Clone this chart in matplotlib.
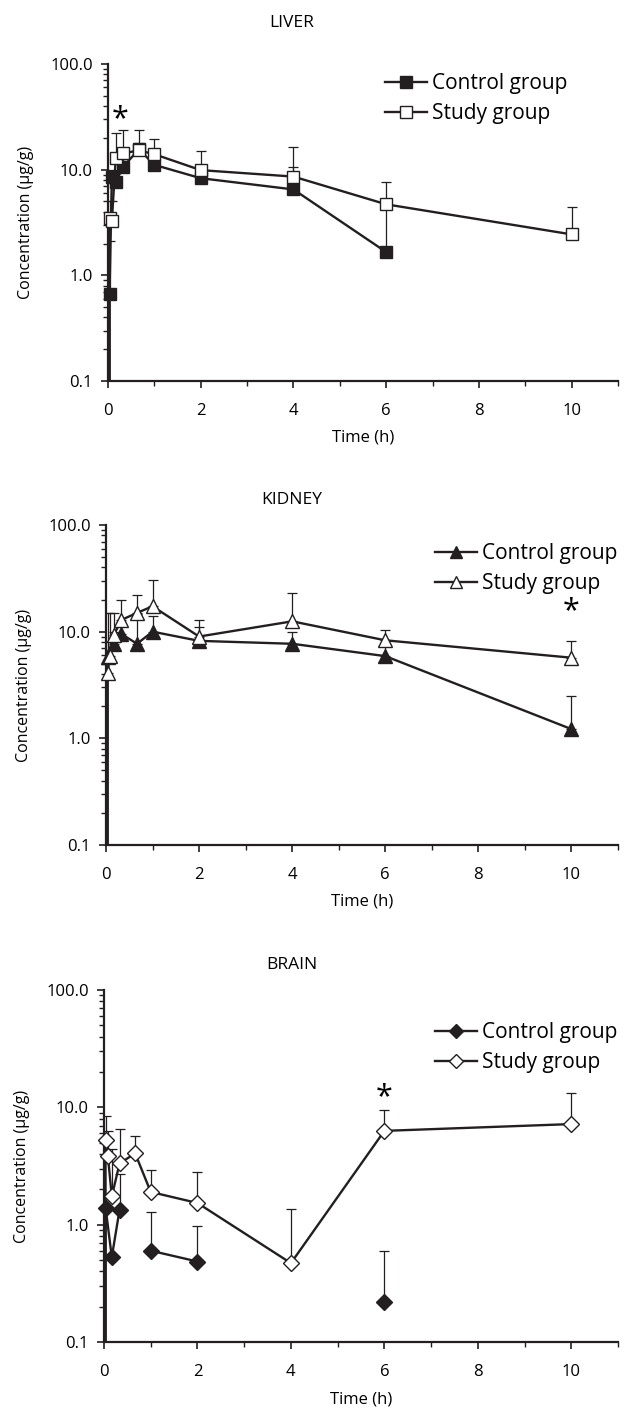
import matplotlib

matplotlib.use("Agg")

import numpy as np
import matplotlib.pyplot as plt
from matplotlib.lines import Line2D

plt.rcParams["font.family"] = ["Open Sans", "DejaVu Sans"]
plt.rcParams["font.size"] = 12

nan = np.nan

# liver
liver_ctrl_t = [0, 0.033, 0.083, 0.167, 0.333, 0.667, 1, 2, 4, 6]
liver_ctrl = [0, 0.66, 8.6, 7.7, 10.7, 15.6, 11.1, 8.3, 6.5, 1.66]
liver_ctrl_top = [0, 2.1, 10.0, 9.5, 12.5, 18.0, 13.0, 10.0, 10.7, 4.5]
liver_study_t = [0, 0.033, 0.083, 0.167, 0.333, 0.667, 1, 2, 4, 6, 10]
liver_study = [0, 3.5, 3.3, 12.8, 14.3, 15.2, 14.0, 9.9, 8.6, 4.7, 2.44]
liver_study_top = [0, 5.0, 5.0, 22.2, 23.9, 23.5, 19.4, 15.1, 16.3, 7.7, 4.45]

# kidney
kidney_ctrl_t = [0, 0.033, 0.167, 0.333, 0.667, 1, 2, 4, 6, 10]
kidney_ctrl = [0, 5.8, 7.6, 9.5, 7.7, 10.0, 8.2, 7.7, 5.9, 1.22]
kidney_ctrl_top = [0, 8.0, 10.0, 12.0, 14.5, 14.0, 11.0, 10.0, 7.5, 2.5]
kidney_study_t = [0, 0.033, 0.083, 0.167, 0.333, 0.667, 1, 2, 4, 6, 10]
kidney_study = [0, 4.1, 5.9, 9.3, 12.9, 15.0, 17.3, 9.0, 12.5, 8.3, 5.7]
kidney_study_top = [0, 15.0, 15.0, 15.0, 20.0, 22.3, 30.6, 13.0, 23.0, 10.3, 8.2]

# brain (nan = no value, line is broken)
brain_ctrl_t = [0, 0.033, 0.167, 0.333, 0.667, 1, 2, 4, 6]
brain_ctrl = [0, 1.4, 0.53, 1.34, nan, 0.6, 0.485, nan, 0.22]
brain_ctrl_top = [0, 1.4, 0.53, 2.7, nan, 1.27, 0.97, nan, 0.6]
brain_study_t = [0, 0.033, 0.083, 0.167, 0.333, 0.667, 1, 2, 4, 6, 10]
brain_study = [0, 5.3, 3.84, 1.74, 3.33, 4.05, 1.9, 1.53, 0.47, 6.3, 7.2]
brain_study_top = [0, 8.4, 6.3, 4.4, 6.5, 5.75, 2.9, 2.8, 1.35, 9.4, 13.3]

y_ticks = [0.1, 1, 10, 100]
y_tick_labels = ["0.1", "1.0", "10.0", "100.0"]

W, H = 624, 1419
INK = "#231f20"

fig = plt.figure(figsize=(W / 100, H / 100), dpi=100)


def px_axes(left, right, top, bottom):
    return fig.add_axes([left / W, 1 - bottom / H, (right - left) / W, (bottom - top) / H])


def draw_series(ax, t, v, top, marker, filled, ms, z):
    t = np.array(t, dtype=float)
    v = np.array(v, dtype=float)
    top = np.array(top, dtype=float)
    pos = v > 0
    ax.errorbar(t[pos], v[pos], yerr=[np.zeros(pos.sum()), top[pos] - v[pos]], fmt="none",
                ecolor=INK, elinewidth=0.9, capsize=3.5, capthick=0.9, zorder=z)
    ax.plot(t, v, color=INK, lw=1.7, zorder=z + 0.5)
    ax.plot(t[pos], v[pos], ls="none", marker=marker, ms=ms, mfc=INK if filled else "white",
            mec=INK, mew=1.0, zorder=z + 1, clip_on=False)


def style_axes(ax, title, title_y, label_w, label_h):
    ax.set_yscale("log", nonpositive="clip")
    ax.set_ylim(0.1, 100)
    ax.set_xlim(0, 11)
    ax.set_yticks(y_ticks)
    ax.set_yticklabels(y_tick_labels)
    ax.yaxis.set_minor_formatter(plt.NullFormatter())
    ax.set_xticks([0, 2, 4, 6, 8, 10])
    ax.set_xticks([1, 3, 5, 7, 9, 11], minor=True)
    for s in ["top", "right"]:
        ax.spines[s].set_visible(False)
    for s in ["left", "bottom"]:
        ax.spines[s].set_linewidth(1.6)
        ax.spines[s].set_color(INK)
    ax.tick_params(axis="both", which="major", length=5, width=1.2, color=INK)
    ax.tick_params(axis="both", which="minor", length=3.5, width=1.0, color=INK)
    ax.tick_params(axis="x", which="both", pad=11)
    ax.tick_params(axis="y", which="both", pad=6)
    ax.set_xlabel("Time (h)")
    ax.set_ylabel("Concentration (µg/g)", fontsize=11.5)
    ax.xaxis.set_label_coords(0.5, -49 / label_h)
    ax.yaxis.set_label_coords(-74 / label_w, 0.5)
    fig.text(292 / W, 1 - title_y / H, title, ha="center", va="center", fontsize=12.5)


def add_legend(ax, marker, ms, x_px, y_px):
    handles = [
        Line2D([], [], color=INK, lw=1.7, marker=marker, ms=ms, mfc=INK, mec=INK),
        Line2D([], [], color=INK, lw=1.7, marker=marker, ms=ms, mfc="white", mec=INK),
    ]
    ax.legend(handles, ["Control group", "Study group"], loc="upper left",
              bbox_to_anchor=(x_px / W, 1 - y_px / H), bbox_transform=fig.transFigure,
              frameon=False, fontsize=15, handlelength=2.0, handletextpad=0.25,
              labelspacing=0.45, borderpad=0, borderaxespad=0)


# LIVER
ax1 = px_axes(108, 618, 64, 381)
draw_series(ax1, liver_ctrl_t, liver_ctrl, liver_ctrl_top, "s", True, 9, 2)
draw_series(ax1, liver_study_t, liver_study, liver_study_top, "s", False, 9, 4)
style_axes(ax1, "LIVER", 23, 510, 317)
add_legend(ax1, "s", 8, 385, 73)
ax1.text(0.25, 30, "*", ha="center", va="center", fontsize=22)

# KIDNEY
ax2 = px_axes(106, 618, 525, 845)
draw_series(ax2, kidney_ctrl_t, kidney_ctrl, kidney_ctrl_top, "^", True, 10, 2)
draw_series(ax2, kidney_study_t, kidney_study, kidney_study_top, "^", False, 10, 4)
style_axes(ax2, "KIDNEY", 500, 512, 320)
add_legend(ax2, "^", 9, 435, 543)
ax2.text(10, 15.5, "*", ha="center", va="center", fontsize=22)

# BRAIN
ax3 = px_axes(104, 618, 990, 1342)
draw_series(ax3, brain_ctrl_t, brain_ctrl, brain_ctrl_top, "D", True, 8, 2)
draw_series(ax3, brain_study_t, brain_study, brain_study_top, "D", False, 8, 4)
style_axes(ax3, "BRAIN", 965, 514, 352)
add_legend(ax3, "D", 7.5, 435, 1022)
ax3.text(6, 12.2, "*", ha="center", va="center", fontsize=22)

fig.savefig("out.png", dpi=100)
